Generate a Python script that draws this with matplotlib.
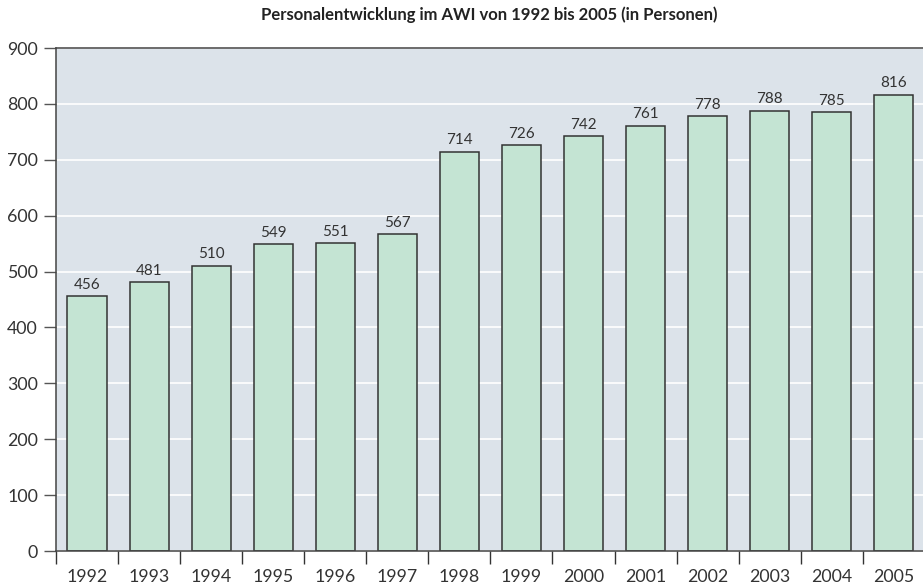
import matplotlib.pyplot as plt
import numpy as np

years = ["1992", "1993", "1994", "1995", "1996", "1997", "1998",
         "1999", "2000", "2001", "2002", "2003", "2004", "2005"]
staff = [456, 481, 510, 549, 551, 567, 714, 726, 742, 761, 778, 788, 785, 816]

plt.rcParams['font.family'] = ['Lato', 'DejaVu Sans']
txt = '#333333'

fig = plt.figure(figsize=(9.23, 5.84), dpi=100)
ax = fig.add_axes([56 / 923, 1 - 551 / 584, 1 - 56 / 923 + 0.002, (551 - 48) / 584])
ax.set_facecolor('#dce3ea')

x = np.arange(len(years))
ax.set_axisbelow(True)
ax.yaxis.grid(True, color='white', linewidth=1.2)
ax.bar(x, staff, width=0.63, color='#c4e4d3', edgecolor='#333333', linewidth=1.1)
for xi, v in zip(x, staff):
    ax.text(xi, v + 8, str(v), ha='center', va='bottom', fontsize=11, color=txt)

ax.set_xlim(-0.5, 13.5)
ax.set_ylim(0, 900)
ax.set_yticks(range(0, 901, 100))
ax.set_xticks(x)
ax.set_xticklabels(years)
ax.set_xticks(np.arange(-0.5, 13.5, 1), minor=True)
ax.tick_params(axis='x', which='major', length=0, pad=13, labelsize=12.8, labelcolor=txt)
ax.tick_params(axis='x', which='minor', length=9, width=1, color='#333333', direction='out')
ax.tick_params(axis='y', length=9, width=1, color='#555555', pad=4, labelsize=12.8, labelcolor=txt)

for s in ['right']:
    ax.spines[s].set_visible(False)
for s in ['left', 'bottom', 'top']:
    ax.spines[s].set_color('#444444')
    ax.spines[s].set_linewidth(1.1)

fig.text((56 + 923) / 2 / 923, 1 - 15 / 584, "Personalentwicklung im AWI von 1992 bis 2005 (in Personen)",
         ha='center', va='center', fontsize=12, fontweight='bold', color='#222222')

fig.savefig('out.png', dpi=100)
